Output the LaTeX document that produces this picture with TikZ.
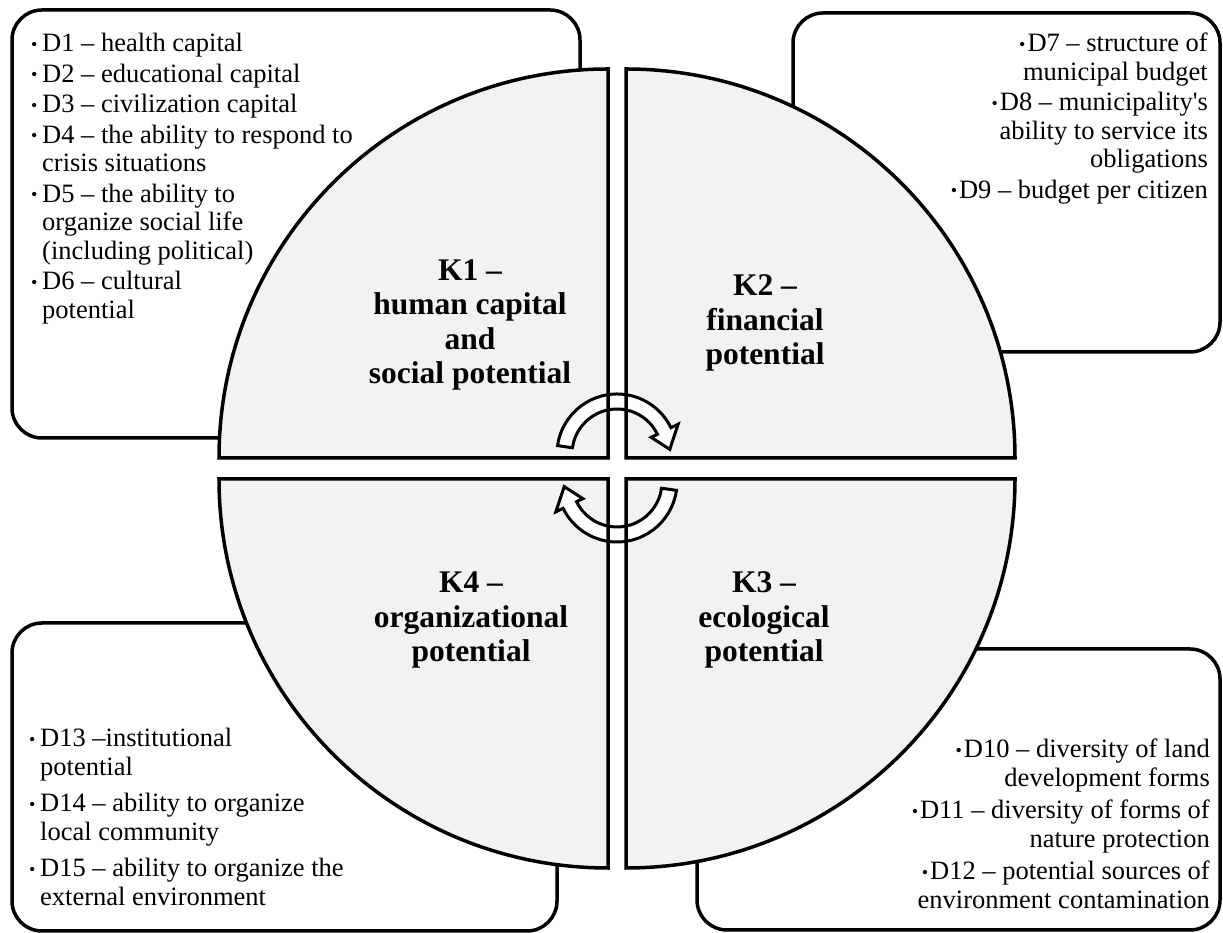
\documentclass[tikz,border=0pt]{standalone}
\usepackage{fontspec}
\setmainfont{Liberation Serif}
\usepackage{tikz}
\definecolor{quadgray}{HTML}{F2F2F2}
\tikzstyle{infobox}=[draw, line width=3.5pt, fill=white, rounded corners=30pt]
\tikzstyle{quad}=[fill=quadgray]
\tikzstyle{rim}=[line width=3.5pt, line join=miter]
\tikzstyle{band}=[line width=3pt, fill=white, line join=miter]
\tikzstyle{itemtext}=[inner sep=0pt, font=\fontsize{26.5}{28.5}\selectfont]
\tikzstyle{heading}=[inner sep=0pt, align=center, font=\fontsize{31.5}{34.5}\selectfont\bfseries]
\newcommand{\quadrant}[3]{
  \fill[quad] (#1,#2) -- ++(#3:389) arc[start angle=#3, delta angle=90, radius=389] -- cycle;
}
\newcommand{\quadrim}[3]{
  \draw[rim] (#1,#2) -- ++(#3:389) arc[start angle=#3, delta angle=90, radius=389] -- cycle;
}
\newcommand{\turnarrow}[3]{
  \filldraw[band, shift={(#1,#2)}, rotate=#3] (172:60) arc[start angle=172, end angle=26, radius=60]
    -- (26:68) -- (5:53) -- (26:38) -- (26:45) arc[start angle=26, end angle=172, radius=45] -- cycle;
}
\newcommand{\itemdot}{\raisebox{1.5pt}{\fontsize{18}{18}\selectfont\textbullet}}
\newcommand{\bul}{\makebox[11pt][l]{\itemdot}}
\newcommand{\rbul}{\itemdot\kern2pt}
\newcommand{\hang}{\hspace*{11pt}}

\begin{document}
\begin{tikzpicture}[x=1pt, y=1pt]
  \useasboundingbox (0,0) rectangle (1223,933);
  \draw[infobox] (12,923) rectangle (580,495);
  \draw[infobox] (793,920) rectangle (1220,581);
  \draw[infobox] (12,310) rectangle (557,2);
  \draw[infobox] (697,284) rectangle (1220,3);
  \quadrant{608}{475}{90}
  \quadrant{626}{475}{0}
  \quadrant{626}{454}{270}
  \quadrant{608}{454}{180}
  \turnarrow{617}{479}{0}
  \turnarrow{617}{451}{180}
  \quadrim{608}{475}{90}
  \quadrim{626}{475}{0}
  \quadrim{626}{454}{270}
  \quadrim{608}{454}{180}
  \node[heading] (k1) at (470,608) {K1 --\\human capital\\and\\social potential};
  \node[heading] (k2) at (765,610) {K2 --\\financial\\potential};
  \node[heading] (k3) at (764,313) {K3 --\\ecological\\potential};
  \node[heading] (k4) at (471,313) {K4 --\\organizational\\potential};
  \node[itemtext, align=left, anchor=north west] (human) at (31,900)
    {\bul D1 -- health capital\\[2pt]
     \bul D2 -- educational capital\\[2pt]
     \bul D3 -- civilization capital\\[2pt]
     \bul D4 -- the ability to respond to\\
     \hang crisis situations\\[2pt]
     \bul D5 -- the ability to\\
     \hang organize social life\\
     \hang (including political)\\[2pt]
     \bul D6 -- cultural\\
     \hang potential};
  \node[itemtext, align=right, anchor=north east] (finance) at (1208,900)
    {\rbul D7 -- structure of\\
     municipal budget\\[2pt]
     \rbul D8 -- municipality\textquotesingle s\\
     ability to service its\\
     obligations\\[2pt]
     \rbul D9 -- budget per citizen};
  \node[itemtext, align=right, anchor=north east] (ecology) at (1210,194)
    {\rbul D10 -- diversity of land\\
     development forms\\[4pt]
     \rbul D11 -- diversity of forms of\\
     nature protection\\[4pt]
     \rbul D12 -- potential sources of\\
     environment contamination};
  \node[itemtext, align=left, anchor=north west] (organize) at (29,205)
    {\bul D13 --institutional\\
     \hang potential\\[8pt]
     \bul D14 -- ability to organize\\
     \hang local community\\[8pt]
     \bul D15 -- ability to organize the\\
     \hang external environment};
\end{tikzpicture}
\end{document}
